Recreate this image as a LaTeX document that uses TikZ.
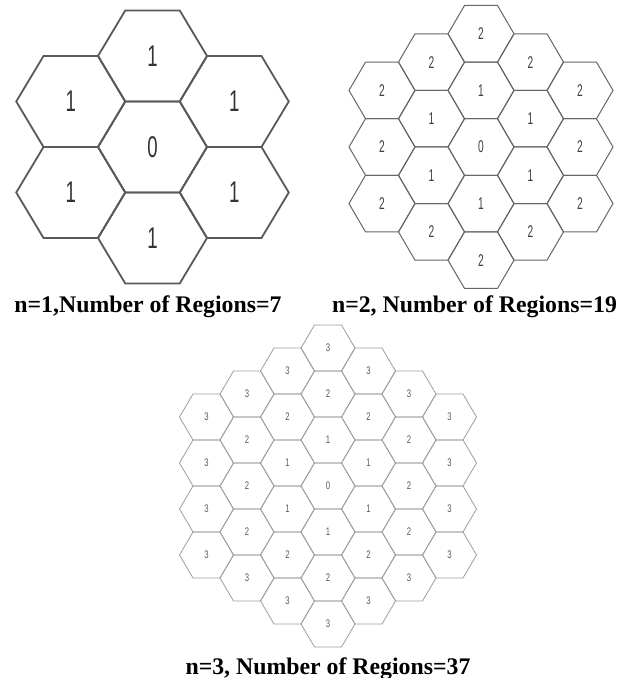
\documentclass[tikz,border=0pt]{standalone}
\usepackage{fontspec}
\setmainfont{Liberation Serif}
\newfontfamily\narrowA[FakeStretch=0.62]{Liberation Sans}
\newfontfamily\narrowB[FakeStretch=0.6]{Liberation Sans}
\newfontfamily\narrowC[FakeStretch=0.7]{Liberation Sans}
\tikzset{
  hexA/.style={draw=black!65, line width=1.8pt, line join=miter},
  hexB/.style={draw=black!60, line width=1.0pt},
  hexC/.style={draw=black!38, line width=0.8pt},
  labA/.style={font=\narrowA\fontsize{30}{30}\selectfont, text=black!80, inner sep=0pt},
  labB/.style={font=\narrowB\fontsize{17}{17}\selectfont, text=black!75, inner sep=0pt},
  labC/.style={font=\narrowC\fontsize{11}{11}\selectfont, text=black!65, inner sep=0pt},
  caption/.style={font=\bfseries\fontsize{23.8}{28}\selectfont, anchor=base, inner sep=0pt}
}
% #1 cx, #2 cy, #3 R, #4 h, #5 n, #6 hex style, #7 label style, #8 name prefix
\newcommand{\myhexgrid}[8]{%
  \pgfmathsetmacro{\hR}{#3/2}%
  \foreach \q in {-#5,...,#5}{%
    \foreach \r in {-#5,...,#5}{%
      \pgfmathtruncatemacro{\s}{-\q-\r}%
      \pgfmathtruncatemacro{\d}{max(abs(\q),abs(\r),abs(\s))}%
      \ifnum\d>#5\relax\else
        \pgfmathsetmacro{\x}{#1+1.5*#3*\q}%
        \pgfmathsetmacro{\y}{#2-#4*(2*\r+\q)}%
        \draw[#6] (\x pt,\y pt) ++(#3 pt,0pt) -- ++(-\hR pt,#4 pt) -- ++(-#3 pt,0pt)
          -- ++(-\hR pt,-#4 pt) -- ++(\hR pt,-#4 pt) -- ++(#3 pt,0pt) -- cycle;
        \node[#7] (#8\q r\r) at (\x pt,\y pt) {\d};
      \fi
    }%
  }%
}
\begin{document}
\begin{tikzpicture}
\useasboundingbox (0pt,0pt) rectangle (627pt,678pt);
\fill[white] (0pt,0pt) rectangle (627pt,678pt);
\myhexgrid{152.5}{531}{54.5}{45.5}{1}{hexA}{labA}{a}
\myhexgrid{481}{531}{33}{28.3}{2}{hexB}{labB}{b}
\myhexgrid{328}{192}{27}{23}{3}{hexC}{labC}{c}
\node[caption] (capA) at (148pt,365pt) {n=1,Number of Regions=7};
\node[caption] (capB) at (474.5pt,365pt) {n=2, Number of Regions=19};
\node[caption] (capC) at (328pt,4pt) {n=3, Number of Regions=37};
\end{tikzpicture}
\end{document}
